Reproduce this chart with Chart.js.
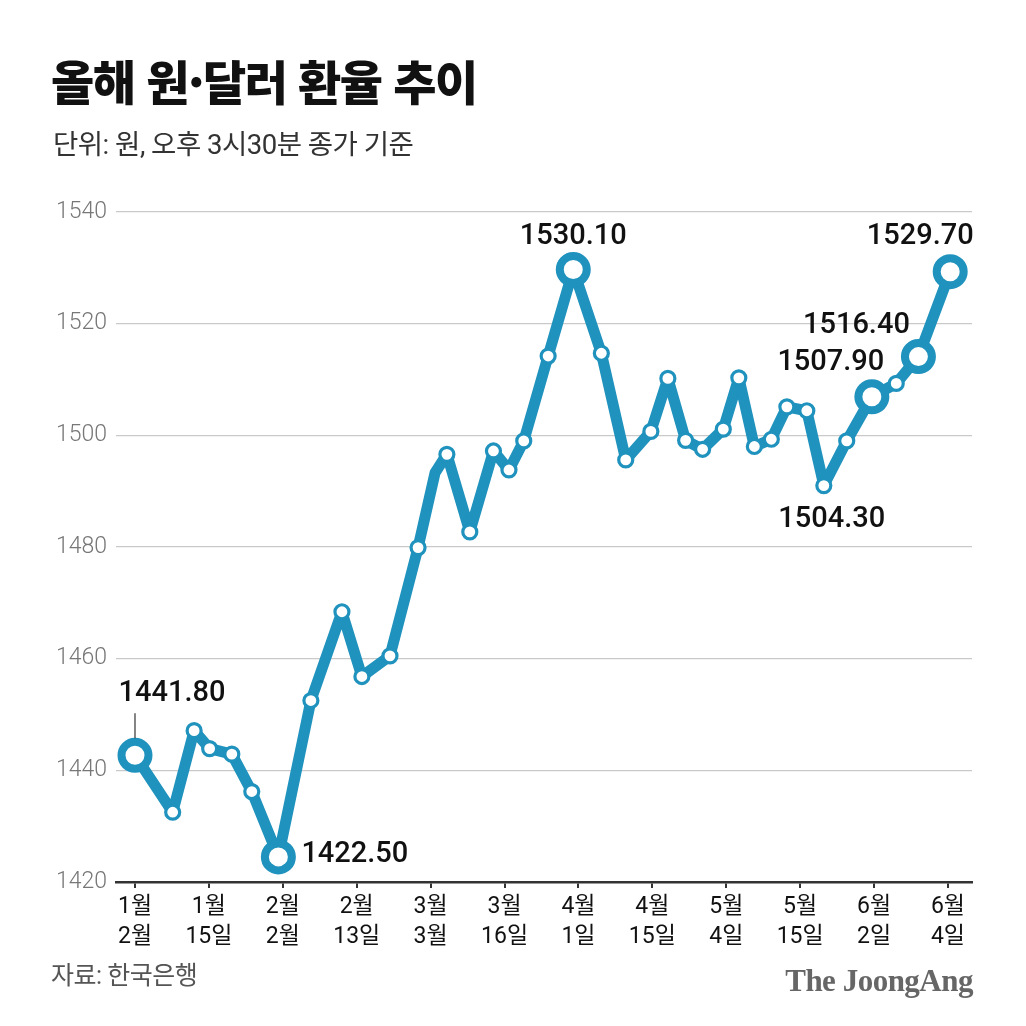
<!DOCTYPE html>
<html lang="ko">
<head>
<meta charset="utf-8">
<title>올해 원·달러 환율 추이</title>
<script src="https://cdn.jsdelivr.net/npm/chart.js@4.4.1/dist/chart.umd.min.js"></script>
<style>
  html, body { margin: 0; padding: 0; background: #fff; }
  #wrap { position: relative; width: 1026px; height: 1026px; overflow: hidden; }
  #chart { position: absolute; left: 0; top: 0; }
  .txt { position: absolute; white-space: nowrap; font-family: Roboto, "Noto Sans CJK KR", sans-serif; }
  #title { left: 51px; top: 53px; font-family: "Noto Sans CJK KR", sans-serif; font-size: 47px; font-weight: 900; line-height: 54px; letter-spacing: -1.5px; color: #111; }
  #sub { left: 53px; top: 128px; font-size: 27.5px; line-height: 34px; color: #333; letter-spacing: -0.5px; }
  #src { left: 51px; top: 960px; font-size: 25px; line-height: 32px; color: #555; letter-spacing: -0.5px; }
  #logo { right: 53px; top: 963px; font-family: "Liberation Serif", serif; font-weight: 700; font-size: 31px; line-height: 36px; color: #666; letter-spacing: -0.5px; }
</style>
</head>
<body>
<div id="wrap">
  <canvas id="chart" width="1026" height="1026"></canvas>
  <div class="txt" id="title">올해 원·달러 환율 추이</div>
  <div class="txt" id="sub">단위: 원, 오후 3시30분 종가 기준</div>
  <div class="txt" id="src">자료: 한국은행</div>
  <div class="txt" id="logo">The JoongAng</div>
</div>
<script>
// x tick labels (two lines each), evenly spaced along the axis
const tickLabels = [
  ['1월', '2월'], ['1월', '15일'], ['2월', '2월'], ['2월', '13일'],
  ['3월', '3월'], ['3월', '16일'], ['4월', '1일'], ['4월', '15일'],
  ['5월', '4일'], ['5월', '15일'], ['6월', '2일'], ['6월', '4일']
];

// position of each close along the axis, in tick units (0 = first tick)
const dayPos = [
  0.00, 0.51, 0.80, 1.01, 1.31, 1.58, 1.94, 2.38, 2.80, 3.07,
  3.45, 3.83, 4.06, 4.22, 4.53, 4.85, 5.06, 5.26, 5.59, 5.93,
  6.31, 6.64, 6.98, 7.21, 7.45, 7.68, 7.96, 8.17, 8.38, 8.61,
  8.82, 9.09, 9.32, 9.63, 9.97, 10.30, 10.60, 11.03
];

// won per dollar, 3:30 pm close
const rates = [
  1442.7, 1432.5, 1447.1, 1443.9, 1442.9, 1436.2, 1424.5, 1452.5, 1468.4, 1456.8,
  1460.5, 1479.9, 1493.3, 1496.6, 1482.7, 1497.2, 1493.8, 1499.0, 1514.2, 1529.7,
  1514.7, 1495.6, 1500.7, 1510.2, 1499.1, 1497.5, 1501.1, 1510.3, 1498.0, 1499.3,
  1505.1, 1504.4, 1491.0, 1499.0, 1506.9, 1509.3, 1514.1, 1529.3
];

// callouts: which point, its text, and where the text sits relative to the point
const calloutIdx   = [0, 6, 19, 32, 34, 36, 37];
const calloutText  = ['1441.80', '1422.50', '1530.10', '1504.30', '1507.90', '1516.40', '1529.70'];
const calloutDx    = [37, 23, 0, 8, -41, -62, -30];
const calloutDy    = [-62, -2, -33, 34, -34, -31, -35];
const calloutAlign = ['center', 'left', 'center', 'center', 'center', 'center', 'center'];

const bigPoints = [0, 6, 19, 34, 36, 37];
const hiddenPoints = [12];

const blue = '#1f92bd';

const points = dayPos.map((x, i) => ({ x: x, y: rates[i] }));

const calloutPlugin = {
  id: 'callouts',
  afterDatasetsDraw(chart) {
    const ctx = chart.ctx;
    const meta = chart.getDatasetMeta(0);
    ctx.save();
    // leader line for the first callout
    const p0 = meta.data[calloutIdx[0]];
    ctx.strokeStyle = '#333';
    ctx.lineWidth = 1.2;
    ctx.beginPath();
    ctx.moveTo(p0.x, p0.y - 17);
    ctx.lineTo(p0.x, p0.y - 42);
    ctx.stroke();

    ctx.fillStyle = '#111';
    ctx.font = '500 29px Roboto, sans-serif';
    ctx.textBaseline = 'middle';
    calloutIdx.forEach((idx, k) => {
      const p = meta.data[idx];
      ctx.textAlign = calloutAlign[k];
      ctx.fillText(calloutText[k], p.x + calloutDx[k], p.y + calloutDy[k]);
    });
    ctx.restore();
  }
};

new Chart(document.getElementById('chart'), {
  type: 'line',
  data: {
    datasets: [{
      data: points,
      borderColor: blue,
      borderWidth: 11,
      borderJoinStyle: 'round',
      borderCapStyle: 'round',
      tension: 0,
      pointBackgroundColor: '#fff',
      pointBorderColor: blue,
      pointRadius: c => hiddenPoints.includes(c.dataIndex) ? 0 : (bigPoints.includes(c.dataIndex) ? 13.5 : 7),
      pointBorderWidth: c => bigPoints.includes(c.dataIndex) ? 8 : 3.2,
      pointHoverRadius: 0,
      clip: false
    }]
  },
  options: {
    responsive: false,
    devicePixelRatio: 1,
    animation: false,
    events: [],
    layout: { padding: { left: 0, right: 54, top: 212, bottom: 74 } },
    plugins: {
      legend: { display: false },
      title: { display: false },
      tooltip: { enabled: false }
    },
    scales: {
      x: {
        type: 'linear',
        min: -0.257,
        max: 11.325,
        afterFit(scale) { scale.height = 70; },
        afterBuildTicks(scale) { scale.ticks = tickLabels.map((_, i) => ({ value: i })); },
        border: { display: true, color: '#333', width: 2.5 },
        grid: { drawOnChartArea: false, drawTicks: true, tickLength: 6, color: '#333', lineWidth: 2 },
        ticks: {
          autoSkip: false,
          maxRotation: 0,
          padding: 4,
          color: '#111',
          font: { family: 'Roboto, "Noto Sans CJK KR", sans-serif', size: 23, lineHeight: 1.3 },
          callback: (v) => tickLabels[Math.round(v)]
        }
      },
      y: {
        min: 1420,
        max: 1540,
        afterFit(scale) { scale.width = 116; },
        border: { display: false },
        grid: { color: '#c9c9c9', lineWidth: 1.3, drawTicks: false },
        ticks: {
          stepSize: 20,
          padding: 9,
          color: '#777',
          font: { family: 'Roboto, sans-serif', size: 23, weight: 300 },
          callback: (v) => String(v)
        }
      }
    }
  },
  plugins: [calloutPlugin]
});
</script>
</body>
</html>
